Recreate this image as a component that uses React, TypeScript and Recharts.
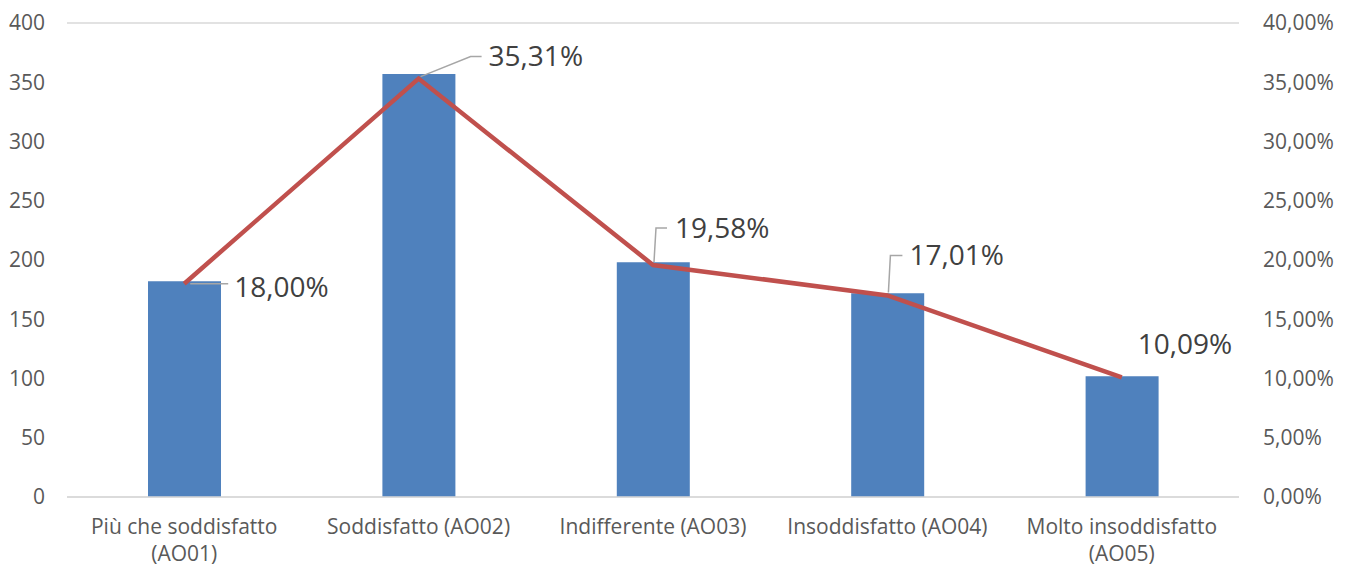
import React from "react";
import {
  ComposedChart,
  Bar,
  Line,
  XAxis,
  YAxis,
  CartesianGrid,
  LabelList,
} from "recharts";

const categories = [
  "Più che soddisfatto (AO01)",
  "Soddisfatto (AO02)",
  "Indifferente (AO03)",
  "Insoddisfatto (AO04)",
  "Molto insoddisfatto (AO05)",
];
const counts = [182, 357, 198, 172, 102];
const shares = [18.0, 35.31, 19.58, 17.01, 10.09];
const countTicks = [0, 50, 100, 150, 200, 250, 300, 350, 400];
const shareTicks = [0, 5, 10, 15, 20, 25, 30, 35, 40];

const data = categories.map((name, i) => ({
  name,
  count: counts[i],
  share: shares[i],
}));

// where each data label sits relative to its point, plus its leader line
const labelPlacement = [
  { tx: 50, ty: 2, leader: [[6, 0], [44, 0]] },
  { tx: 70, ty: -24, leader: [[2, -2], [52, -22], [63, -22]] },
  { tx: 22, ty: -38, leader: [[1, -3], [3, -37], [14, -37]] },
  { tx: 22, ty: -41, leader: [[1, -3], [3, -40], [15, -40]] },
  { tx: 16, ty: -34, leader: [] as number[][] },
];

const FONT = "'Open Sans', 'Noto Sans', sans-serif";
const fmtPct = (v: number) => v.toFixed(2).replace(".", ",") + "%";

const ShareLabel = (props: any) => {
  const { x, y, index, value } = props;
  const p = labelPlacement[index];
  const pts = p.leader.map(([dx, dy]) => `${x + dx},${y + dy}`).join(" ");
  return (
    <g>
      {p.leader.length > 0 && (
        <polyline points={pts} fill="none" stroke="#a6a6a6" strokeWidth={1.5} />
      )}
      <text
        x={x + p.tx}
        y={y + p.ty}
        dominantBaseline="central"
        fontSize={28}
        fontFamily={FONT}
        fill="#404040"
      >
        {fmtPct(value)}
      </text>
    </g>
  );
};

// long labels go on two lines, breaking before the code in brackets
const CategoryTick = (props: any) => {
  const { x, y, payload } = props;
  const label: string = payload.value;
  const cut = label.indexOf(" (");
  const lines = label.length > 20 ? [label.slice(0, cut), label.slice(cut + 1)] : [label];
  return (
    <text
      x={x}
      y={y + 21}
      textAnchor="middle"
      fontSize={21}
      fontFamily={FONT}
      fill="#595959"
      dominantBaseline="central"
    >
      {lines.map((l, i) => (
        <tspan key={i} x={x} dy={i === 0 ? 0 : 27}>
          {l}
        </tspan>
      ))}
    </text>
  );
};

export default function App() {
  return (
    <div style={{ width: 1341, height: 560, borderRight: "1px solid #d9d9d9" }}>
      <ComposedChart
        width={1341}
        height={560}
        data={data}
        margin={{ top: 15, right: 0, left: 0, bottom: 0 }}
      >
        <CartesianGrid vertical={false} stroke="#d9d9d9" strokeWidth={1.5} />
        <XAxis
          dataKey="name"
          height={71}
          interval={0}
          tickLine={false}
          axisLine={{ stroke: "#d9d9d9", strokeWidth: 1.5 }}
          tick={<CategoryTick />}
        />
        <YAxis
          yAxisId="left"
          width={59}
          domain={[0, 400]}
          ticks={countTicks}
          axisLine={false}
          tickLine={false}
          tickSize={0}
          tickMargin={22}
          tick={{ fontSize: 21, fontFamily: FONT, fill: "#595959" }}
        />
        <YAxis
          yAxisId="right"
          orientation="right"
          width={110}
          domain={[0, 40]}
          ticks={shareTicks}
          axisLine={false}
          tickLine={false}
          tickSize={0}
          tickMargin={24}
          tickFormatter={fmtPct}
          tick={{ fontSize: 21, fontFamily: FONT, fill: "#595959" }}
        />
        <Bar
          yAxisId="left"
          dataKey="count"
          fill="#4f81bd"
          barSize={73}
          isAnimationActive={false}
        />
        <Line
          yAxisId="right"
          dataKey="share"
          stroke="#c0504d"
          strokeWidth={4.5}
          dot={false}
          isAnimationActive={false}
        >
          <LabelList dataKey="share" content={<ShareLabel />} />
        </Line>
      </ComposedChart>
    </div>
  );
}
